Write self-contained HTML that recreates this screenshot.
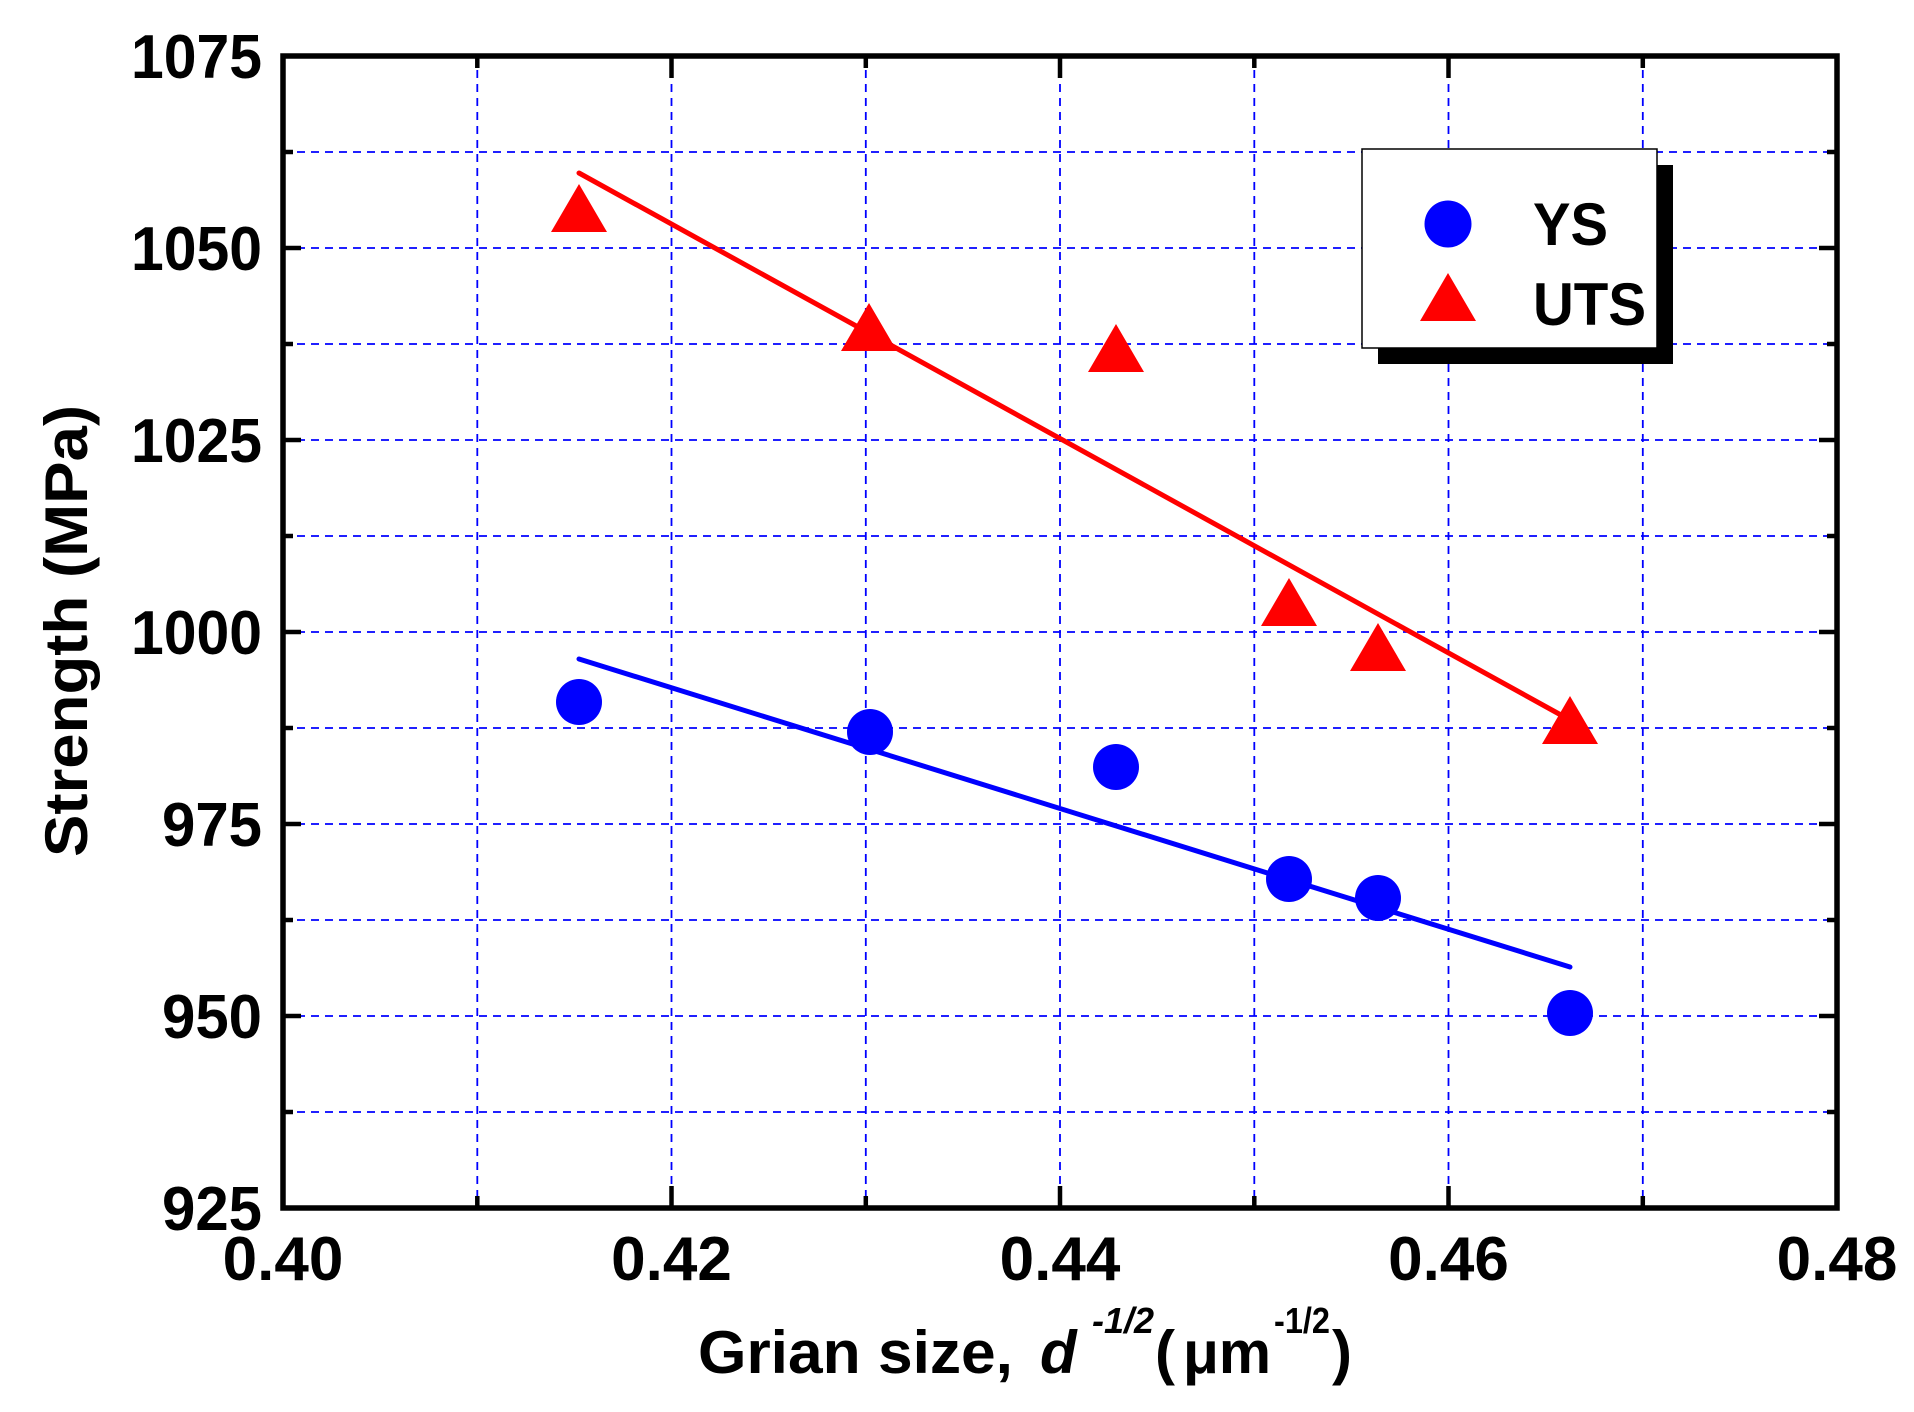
<!DOCTYPE html>
<html><head><meta charset="utf-8"><style>
html,body{margin:0;padding:0;background:#fff;}
svg{display:block;}
text{font-family:"Liberation Sans",Arial,sans-serif;font-weight:bold;fill:#000;}
</style></head><body>
<svg width="1914" height="1412" viewBox="0 0 1914 1412" xmlns="http://www.w3.org/2000/svg">
<rect width="1914" height="1412" fill="#fff"/>
<g stroke="#0000ff" stroke-width="1.8" stroke-dasharray="8,6" fill="none">
<line x1="477.3" y1="56" x2="477.3" y2="1208"/>
<line x1="671.5" y1="56" x2="671.5" y2="1208"/>
<line x1="865.8" y1="56" x2="865.8" y2="1208"/>
<line x1="1060" y1="56" x2="1060" y2="1208"/>
<line x1="1254.3" y1="56" x2="1254.3" y2="1208"/>
<line x1="1448.5" y1="56" x2="1448.5" y2="1208"/>
<line x1="1642.8" y1="56" x2="1642.8" y2="1208"/>
<line x1="283" y1="152" x2="1837" y2="152"/>
<line x1="283" y1="248" x2="1837" y2="248"/>
<line x1="283" y1="344" x2="1837" y2="344"/>
<line x1="283" y1="440" x2="1837" y2="440"/>
<line x1="283" y1="536" x2="1837" y2="536"/>
<line x1="283" y1="632" x2="1837" y2="632"/>
<line x1="283" y1="728" x2="1837" y2="728"/>
<line x1="283" y1="824" x2="1837" y2="824"/>
<line x1="283" y1="920" x2="1837" y2="920"/>
<line x1="283" y1="1016" x2="1837" y2="1016"/>
<line x1="283" y1="1112" x2="1837" y2="1112"/>
</g>
<g stroke="#000" stroke-width="4.5">
<path d="M283 248h18M283 440h18M283 632h18M283 824h18M283 1016h18M283 152h10M283 344h10M283 536h10M283 728h10M283 920h10M283 1112h10"/>
<path d="M1837 248h-18M1837 440h-18M1837 632h-18M1837 824h-18M1837 1016h-18M1837 152h-10M1837 344h-10M1837 536h-10M1837 728h-10M1837 920h-10M1837 1112h-10"/>
<path d="M671.5 1208v-22M1060 1208v-22M1448.5 1208v-22M477.3 1208v-12M865.8 1208v-12M1254.3 1208v-12M1642.8 1208v-12"/>
<path d="M671.5 56v22M1060 56v22M1448.5 56v22M477.3 56v12M865.8 56v12M1254.3 56v12M1642.8 56v12"/>
</g>
<rect x="283" y="56" width="1554" height="1152" fill="none" stroke="#000" stroke-width="5.5"/>
<line x1="579" y1="173" x2="1570" y2="720" stroke="#ff0000" stroke-width="5" stroke-linecap="round"/>
<line x1="579" y1="659" x2="1570" y2="967" stroke="#0000ff" stroke-width="5" stroke-linecap="round"/>
<g fill="#ff0000">
<polygon points="579,184 551,232 607,232"/>
<polygon points="869,303 841,351 897,351"/>
<polygon points="1116,324 1088,372 1144,372"/>
<polygon points="1289,578 1261,626 1317,626"/>
<polygon points="1378,623 1350,671 1406,671"/>
<polygon points="1570,696 1542,744 1598,744"/>
</g>
<g fill="#0000ff">
<circle cx="579" cy="702" r="23"/>
<circle cx="870" cy="732" r="23"/>
<circle cx="1116" cy="767" r="23"/>
<circle cx="1289" cy="879" r="23"/>
<circle cx="1378" cy="898" r="23"/>
<circle cx="1570" cy="1013" r="23"/>
</g>
<rect x="1378" y="165" width="295" height="199" fill="#000"/>
<rect x="1362" y="149" width="295" height="199" fill="#fff" stroke="#000" stroke-width="1.5"/>
<circle cx="1448" cy="224" r="23.5" fill="#0000ff"/>
<polygon points="1448,273 1420,321 1476,321" fill="#ff0000"/>
<text x="1533" y="245" font-size="60" textLength="75" lengthAdjust="spacingAndGlyphs">YS</text>
<text x="1533" y="325" font-size="60" textLength="113" lengthAdjust="spacingAndGlyphs">UTS</text>
<g font-size="62" text-anchor="end">
<text x="262" y="78" textLength="131" lengthAdjust="spacingAndGlyphs">1075</text>
<text x="262" y="270" textLength="131" lengthAdjust="spacingAndGlyphs">1050</text>
<text x="262" y="462" textLength="131" lengthAdjust="spacingAndGlyphs">1025</text>
<text x="262" y="654" textLength="131" lengthAdjust="spacingAndGlyphs">1000</text>
<text x="262" y="846" textLength="100" lengthAdjust="spacingAndGlyphs">975</text>
<text x="262" y="1038" textLength="100" lengthAdjust="spacingAndGlyphs">950</text>
<text x="262" y="1230" textLength="100" lengthAdjust="spacingAndGlyphs">925</text>
</g>
<g font-size="62" text-anchor="middle">
<text x="283" y="1280">0.40</text>
<text x="671.5" y="1280">0.42</text>
<text x="1060" y="1280">0.44</text>
<text x="1448.5" y="1280">0.46</text>
<text x="1837" y="1280">0.48</text>
</g>
<text transform="translate(87,631) rotate(-90)" text-anchor="middle" font-size="60" textLength="452" lengthAdjust="spacingAndGlyphs">Strength (MPa)</text>
<text x="698" y="1373" font-size="60" textLength="315" lengthAdjust="spacingAndGlyphs">Grian size,</text>
<text x="1040" y="1373" font-size="60" font-style="italic">d</text>
<text x="1092" y="1333" font-size="36" font-style="italic" textLength="62" lengthAdjust="spacingAndGlyphs">-1/2</text>
<text x="1155" y="1373" font-size="60">(</text>
<text x="1183" y="1373" font-size="60" textLength="88" lengthAdjust="spacingAndGlyphs">μm</text>
<text x="1274" y="1333" font-size="36" textLength="56" lengthAdjust="spacingAndGlyphs">-1/2</text>
<text x="1332" y="1373" font-size="60">)</text>
</svg>
</body></html>
